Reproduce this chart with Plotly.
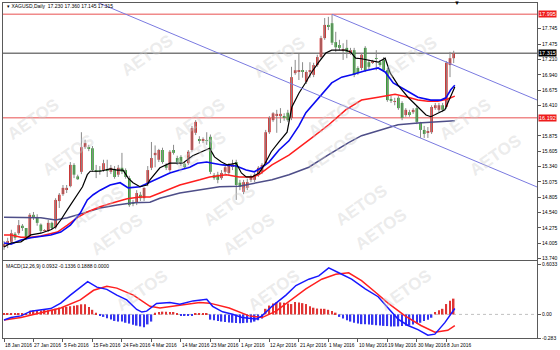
import plotly.graph_objects as go

# ---------------- data ----------------
opens = [13.94,13.975,14.03,14.17,14.18,14.31,14.27,14.13,14.50,14.46,
14.33,14.22,14.22,14.36,14.28,14.74,14.86,14.95,15.00,15.37,
15.17,15.25,15.68,15.67,15.66,15.28,15.28,15.28,15.30,15.25,
15.30,15.20,15.32,15.28,15.14,14.70,14.71,14.85,14.79,15.04,
15.32,15.54,15.46,15.63,15.37,15.28,15.63,15.49,15.51,15.39,
15.40,15.63,15.93,15.82,15.80,15.80,15.86,15.19,15.20,15.14,
15.25,15.23,15.35,15.42,15.06,14.90,14.97,15.11,15.11,15.20,
15.25,15.40,15.94,16.15,16.23,16.22,16.21,16.28,16.19,16.97,
16.99,17.01,16.82,16.99,16.94,17.11,17.25,17.58,17.81,17.84,
17.51,17.46,17.37,17.41,17.32,17.37,17.06,17.06,17.41,17.16,
17.16,17.23,17.16,17.20,17.02,16.52,16.47,16.54,16.45,16.24,
16.29,16.29,16.36,16.10,15.98,15.93,15.94,16.36,16.33,16.41,
16.38,17.11,17.23]
highs = [14.045,14.10,14.24,14.20,14.41,14.34,14.27,14.53,14.55,14.51,
14.35,14.25,14.41,14.38,14.79,14.88,15.02,15.02,15.42,15.40,
15.20,15.94,15.81,15.72,15.70,15.37,15.35,15.46,15.46,15.37,
15.35,15.37,15.58,15.31,15.18,14.76,14.93,14.90,14.98,15.35,
15.77,15.71,15.65,15.67,15.40,15.63,15.72,15.53,15.54,15.42,
15.63,16.05,16.15,15.87,15.85,15.94,15.90,15.23,15.25,15.28,
15.37,15.40,15.46,15.46,15.11,15.11,15.13,15.20,15.23,15.35,
15.40,15.98,16.22,16.29,16.33,16.36,16.27,16.33,17.08,17.20,
17.31,17.16,17.02,17.16,17.15,17.29,17.62,17.93,17.95,17.995,
17.69,17.55,17.49,17.55,17.41,17.41,17.09,17.32,17.44,17.20,
17.20,17.37,17.20,17.25,17.06,16.57,16.54,16.57,16.48,16.36,
16.33,16.36,16.40,16.12,16.05,16.03,16.41,16.45,16.45,16.45,
17.18,17.34,17.36]
lows = [13.89,13.92,13.99,14.06,14.15,14.22,14.06,14.09,14.41,14.31,
14.18,14.21,14.20,14.24,14.25,14.62,14.83,14.88,14.98,15.14,
15.11,15.21,15.65,15.61,15.25,15.14,15.20,15.25,15.16,15.21,
15.13,15.16,15.21,15.13,14.64,14.65,14.67,14.74,14.74,15.00,
15.28,15.33,15.42,15.39,15.28,15.25,15.55,15.37,15.35,15.30,
15.37,15.60,15.89,15.74,15.75,15.72,15.21,15.11,15.05,15.11,
15.21,15.19,15.28,14.76,14.93,14.86,14.93,15.07,15.07,15.16,
15.21,15.37,15.91,16.12,15.93,16.10,16.14,16.12,16.15,16.94,
16.85,16.89,16.78,16.89,16.90,17.08,17.22,17.55,17.72,17.46,
17.34,17.37,17.20,17.23,17.29,16.90,16.94,17.02,16.99,17.04,
17.13,17.02,17.08,16.99,16.47,16.45,16.41,16.33,16.15,16.21,
16.21,16.26,16.08,15.84,15.84,15.84,15.91,16.33,16.29,16.29,
16.35,16.90,17.145]
closes = [13.99,14.045,14.18,14.10,14.32,14.27,14.11,14.50,14.46,14.36,
14.22,14.23,14.36,14.27,14.76,14.85,14.97,14.97,15.37,15.20,
15.12,15.68,15.75,15.66,15.28,15.26,15.27,15.40,15.28,15.32,
15.16,15.32,15.25,15.16,14.67,14.69,14.88,14.79,14.97,15.28,
15.49,15.58,15.63,15.42,15.32,15.60,15.58,15.42,15.40,15.33,
15.60,16.01,16.12,15.80,15.82,15.79,15.25,15.14,15.11,15.23,
15.33,15.37,15.38,15.02,14.99,15.07,15.07,15.16,15.20,15.32,
15.37,15.94,16.19,16.27,16.26,16.26,16.19,16.15,16.90,17.02,
17.01,16.99,16.99,17.01,17.11,17.25,17.58,17.81,17.79,17.50,
17.42,17.41,17.39,17.34,17.37,16.94,16.97,17.29,17.02,17.08,
17.18,17.22,17.11,17.02,16.50,16.50,16.48,16.36,16.19,16.33,
16.24,16.33,16.12,15.98,15.91,15.95,16.38,16.41,16.41,16.33,
17.15,17.23,17.315]

ma_black_x = [0,1.9,4.6,7.3,10,12.7,14,15.4,17.2,18.9,21.3,22.6,23.4,26.1,28.8,30.7,32.3,33.7,35,36.9,
              38.8,39.6,42.3,45,48.5,51.2,53.9,55.8,57.1,59,60.6,63,64.4,65.7,67.3,69.2,70.6,72.5,74.6,76.8,
              78.1,80,81.9,83.5,85.4,87.3,88.9,90.8,92.7,94,95.4,97,98.9,101.5,103.4,104.8,106.9,109.6,112.3,114.5,
              115.8,117.7,119.6,120.4,121.8,122.3]
ma_black_y = [13.94,14.01,14.03,14.15,14.18,14.24,14.29,14.41,14.59,14.76,14.99,15.20,15.26,15.26,15.30,15.28,15.28,15.14,15.06,14.99,
              15.02,15.11,15.32,15.40,15.40,15.53,15.61,15.66,15.51,15.42,15.37,15.40,15.23,15.16,15.16,15.23,15.37,15.60,15.77,15.94,
              16.38,16.62,16.81,16.99,17.16,17.32,17.37,17.37,17.37,17.34,17.23,17.22,17.20,17.16,17.23,16.97,16.76,16.55,16.38,16.24,
              16.21,16.27,16.33,16.45,16.64,16.73]
ma_blue_x = [0,1.9,4.6,7.3,12.7,15.4,18,20.7,22.6,24.2,26.1,28.8,31.5,33.7,36.9,39.6,42.3,45,47.7,50.4,
             52.5,55,56.6,59.3,63,65.7,67.9,69.8,71.9,74.6,77.3,80,81.9,85.4,88.9,91.6,94.3,98,101.5,103.4,
             105.6,108.8,112.3,115.8,118.5,119.9,121.2,122.3]
ma_blue_y = [14.01,13.99,14.06,14.10,14.15,14.20,14.32,14.53,14.76,14.85,14.93,15.02,15.06,14.97,14.99,15.07,15.16,15.23,15.28,15.33,
             15.40,15.42,15.40,15.37,15.35,15.28,15.25,15.32,15.42,15.63,15.79,16.05,16.28,16.55,16.80,16.90,16.94,17.01,17.06,16.99,
             16.80,16.68,16.55,16.50,16.50,16.54,16.68,16.76]
ma_red_x = [0,1.9,4.6,7.3,10,12.7,14.5,17.2,19.9,22.6,26.1,29.6,33.4,36.9,39.6,42.3,47.7,53.1,55.8,60.3,
            63.8,67.3,69.2,72.7,77.3,83.5,88.1,92.7,97,101.5,106.1,109.6,112.3,115,117.7,120.4,122.3]
ma_red_y = [14.15,14.15,14.11,14.11,14.13,14.18,14.20,14.32,14.45,14.55,14.64,14.71,14.78,14.81,14.81,14.88,15.02,15.11,15.16,15.20,
            15.16,15.16,15.20,15.37,15.54,15.84,16.07,16.33,16.50,16.55,16.60,16.55,16.50,16.48,16.48,16.52,16.57]
ma_slow_x = [0,4.6,10,14,17.2,21.5,26.1,30.7,35,39.6,42.3,47.7,53.1,58.5,63.8,68.4,72.7,77.3,82.7,88.1,
             93.5,97,101.5,106.9,112.3,117.7,122.3]
ma_slow_y = [14.46,14.45,14.45,14.41,14.45,14.53,14.62,14.67,14.71,14.72,14.79,14.88,14.93,14.99,15.00,15.06,15.11,15.20,15.33,15.55,
             15.76,15.88,15.97,16.07,16.10,16.12,16.14]

macd_x = [0,1.9,4.6,7.3,12.7,15.4,18,20.7,22.7,25.2,27.9,30.6,33.3,36,37.4,38.7,41.4,45,47.7,51.3,
          53.1,55,56.6,59.3,62,64.6,68.4,70,72.7,76.5,79.2,82.7,85.4,88.1,90.8,94.3,98,101.5,104.2,106.9,
          109.6,112.3,115,116.9,119.6,122.3]
macd_y = [-0.068,-0.038,-0.018,0.039,0.07,0.135,0.231,0.327,0.392,0.327,0.30,0.231,0.174,0.059,0.028,0.039,0.131,0.143,0.123,0.162,
          0.174,0.181,0.097,0.031,0.001,-0.038,-0.056,-0.018,0.097,0.231,0.346,0.422,0.461,0.557,0.499,0.422,0.307,0.212,0.077,-0.056,
          -0.133,-0.183,-0.249,-0.237,-0.099,0.07]
signal_x = [0,4.6,10,15.4,20.7,24.3,27.9,30.6,35.1,39.6,42.3,45.9,50.4,53.1,55.8,61.1,66.5,70,73.8,77.3,
            81.9,86.2,90,93.5,97,100.7,104.2,108.8,113.1,116.9,120.4,122.3]
signal_y = [-0.068,-0.038,0.02,0.077,0.174,0.289,0.338,0.315,0.231,0.097,0.077,0.097,0.123,0.143,0.135,0.077,-0.018,-0.038,0.039,0.154,
            0.307,0.422,0.48,0.499,0.404,0.269,0.135,-0.018,-0.133,-0.214,-0.191,-0.1336]
hist = [0.005,0.009,0.009,0.009,0.009,0.009,0.012,0.045,0.048,0.048,
        0.048,0.06,0.05,0.055,0.067,0.08,0.086,0.09,0.098,0.104,
        0.11,0.121,0.121,0.09,0.055,0.021,-0.017,-0.03,-0.045,-0.06,
        -0.078,-0.086,-0.086,-0.1,-0.11,-0.124,-0.135,-0.144,-0.155,-0.12,
        -0.086,0.02,0.029,0.033,0.033,0.03,0.029,0.009,-0.017,-0.017,
        -0.017,-0.017,0.009,0.009,0.009,0.009,-0.063,-0.07,-0.08,-0.086,
        -0.09,-0.098,-0.1,-0.104,-0.106,-0.104,-0.1,-0.096,-0.086,-0.07,
        -0.048,0.067,0.106,0.13,0.144,0.144,0.14,0.13,0.124,0.15,
        0.144,0.135,0.124,0.098,0.08,0.07,0.067,0.067,0.055,0.04,
        0.021,-0.03,-0.05,-0.07,-0.086,-0.1,-0.11,-0.117,-0.118,-0.12,
        -0.125,-0.13,-0.132,-0.138,-0.14,-0.144,-0.144,-0.144,-0.14,-0.136,
        -0.132,-0.12,-0.11,-0.1,-0.08,-0.063,-0.04,0.029,0.05,0.067,
        0.124,0.163,0.1888]

date_labels = ["18 Jan 2016","27 Jan 2016","5 Feb 2016","15 Feb 2016","24 Feb 2016","4 Mar 2016",
               "14 Mar 2016","23 Mar 2016","1 Apr 2016","12 Apr 2016","21 Apr 2016","1 May 2016",
               "10 May 2016","19 May 2016","30 May 2016","8 Jun 2016"]
date_bars = [0,8,16,24,32,40,48,56,64,72,80,88,96,104,112,120]
price_ticks = [17.745,17.475,17.210,16.940,16.675,16.410,15.875,15.605,15.340,15.075,14.805,14.540,14.275,14.005,13.740]
macd_ticks = [0.6033, 0.0, -0.283]
macd_tick_text = ["0.6033", "0.00", "-0.283"]
level_red = [17.995, 16.192]
level_price = 17.315
chan_upper = [(89, 17.995), (144.6, 16.502)]
chan_lower = [(0, 18.887), (144.6, 14.986)]
header = "XAGUSD,Daily  17.230 17.360 17.145 17.315"
macd_header = "MACD(12,26,9) 0.0932 -0.1336 0.1888 0.0000"

N = len(opens)
bars = list(range(N))
FONT = "Liberation Sans, Arial, sans-serif"
UP, DN = "#d42a2a", "#2a9e2a"

fig = go.Figure()

# watermark
wm = [(115,28),(280,30),(445,30),(0,92),(167,92),(335,90),(500,92),(35,155),(200,152),(365,152),(530,155),
      (65,207),(230,205),(395,205),(85,262),(250,262),(415,257),(110,318),(275,318),(440,318)]
for (px, py) in wm:
    fig.add_annotation(xref="paper", yref="paper", x=(px-2)/538, y=(338-py)/335, text="<b>AETOS</b>",
                       showarrow=False, textangle=-35, font=dict(size=17, color="rgba(205,205,205,0.4)", family=FONT))

# wicks
wx, wy = [], []
for i in bars:
    wx += [i, i, None]
    wy += [lows[i], highs[i], None]
fig.add_trace(go.Scatter(x=wx, y=wy, mode="lines", line=dict(color="#8a8a8a", width=1),
                         hoverinfo="skip", xaxis="x", yaxis="y"))
# bodies
fig.add_trace(go.Bar(x=bars, base=[min(o, c) for o, c in zip(opens, closes)],
                     y=[max(abs(c - o), 0.007) for o, c in zip(opens, closes)],
                     marker=dict(color=[UP if c >= o else DN for o, c in zip(opens, closes)], line=dict(width=0)),
                     width=0.72, xaxis="x", yaxis="y"))

# moving averages
for xs, ys, col, w in [(ma_slow_x, ma_slow_y, "#4e4e88", 1.5), (ma_red_x, ma_red_y, "#ff1e1e", 1.5),
                       (ma_blue_x, ma_blue_y, "#0a0af0", 1.6), (ma_black_x, ma_black_y, "#000000", 1.2)]:
    fig.add_trace(go.Scatter(x=xs, y=ys, mode="lines", line=dict(color=col, width=w), xaxis="x", yaxis="y"))

# channel lines
for seg in (chan_upper, chan_lower):
    fig.add_trace(go.Scatter(x=[p[0] for p in seg], y=[p[1] for p in seg], mode="lines",
                             line=dict(color="#7a7ae0", width=1), xaxis="x", yaxis="y"))

# MACD
fig.add_trace(go.Bar(x=bars, y=hist, width=0.42,
                     marker=dict(color=["#e03434" if v >= 0 else "#3434f0" for v in hist], line=dict(width=0)),
                     xaxis="x2", yaxis="y2"))
fig.add_trace(go.Scatter(x=signal_x, y=signal_y, mode="lines", line=dict(color="#ff2020", width=1.5), xaxis="x2", yaxis="y2"))
fig.add_trace(go.Scatter(x=macd_x, y=macd_y, mode="lines", line=dict(color="#1818ff", width=1.5), xaxis="x2", yaxis="y2"))

shapes = []
for lv in level_red:
    shapes.append(dict(type="line", xref="x domain", yref="y", x0=0, x1=1, y0=lv, y1=lv,
                       line=dict(color="#f08a8a", width=1.5), layer="below"))
shapes.append(dict(type="line", xref="x domain", yref="y", x0=0, x1=1, y0=level_price, y1=level_price,
                   line=dict(color="#7a7a7a", width=1.5), layer="below"))
shapes.append(dict(type="line", xref="x2 domain", yref="y2", x0=0, x1=1, y0=0, y1=0,
                   line=dict(color="#c0c0c0", width=1, dash="dot"), layer="below"))
fig.update_layout(shapes=shapes)

# right-side price boxes
for lv, bg in [(level_red[0], "#ee1c1c"), (level_price, "#000000"), (level_red[1], "#ee1c1c")]:
    fig.add_annotation(xref="paper", yref="y", x=1, y=lv, xanchor="left", xshift=1, text=f"{lv:.3f}",
                       showarrow=False, bgcolor=bg, borderpad=0, font=dict(size=5.5, color="white", family=FONT))

# headers
fig.add_annotation(xref="paper", yref="paper", x=0.003, y=(338-6)/335, xanchor="left", yanchor="middle",
                   text="▾ " + header, showarrow=False, font=dict(size=5, color="#000", family=FONT))
fig.add_annotation(xref="paper", yref="paper", x=0.002, y=(338-266)/335, xanchor="left", yanchor="middle",
                   text=macd_header, showarrow=False, font=dict(size=5, color="#000", family=FONT))
fig.add_annotation(xref="paper", yref="paper", x=(464-2)/538, y=1, yanchor="middle",
                   text="▼", showarrow=False, font=dict(size=6, color="#000", family=FONT))

# date labels
for b, t in zip(date_bars, date_labels):
    fig.add_annotation(xref="x2", yref="paper", x=b, y=-0.008, xanchor="left", yanchor="top", xshift=-1,
                       text=t, showarrow=False, font=dict(size=4.9, color="#000", family=FONT))

xr = [-0.27, 144.6]
axcol = "#5a5a5a"
fig.update_layout(
    width=560, height=350, margin=dict(l=2, r=20, t=3, b=12),
    paper_bgcolor="white", plot_bgcolor="white", showlegend=False, barmode="overlay",
    xaxis=dict(domain=[0, 1], range=xr, anchor="y", showticklabels=False, ticks="", showgrid=False,
               zeroline=False, showline=True, mirror=True, linecolor=axcol, linewidth=1),
    yaxis=dict(domain=[0.23284, 1], range=[13.713, 18.192], side="right", tickvals=price_ticks,
               ticktext=[f"{v:.3f}" for v in price_ticks], ticks="outside", ticklen=3, tickcolor=axcol,
               tickfont=dict(size=5, color="#000", family=FONT), showgrid=False, zeroline=False,
               showline=True, mirror=True, linecolor=axcol, linewidth=1),
    xaxis2=dict(domain=[0, 1], range=xr, anchor="y2", showticklabels=False, tickvals=date_bars,
                ticks="outside", ticklen=3, tickcolor=axcol, showgrid=False, zeroline=False,
                showline=True, mirror=True, linecolor=axcol, linewidth=1),
    yaxis2=dict(domain=[0, 0.22985], range=[-0.283, 0.64], side="right", tickvals=macd_ticks,
                ticktext=macd_tick_text, ticks="outside", ticklen=3, tickcolor=axcol,
                tickfont=dict(size=5, color="#000", family=FONT), showgrid=False, zeroline=False,
                showline=True, mirror=True, linecolor=axcol, linewidth=1),
)

fig.write_html("out.html")
